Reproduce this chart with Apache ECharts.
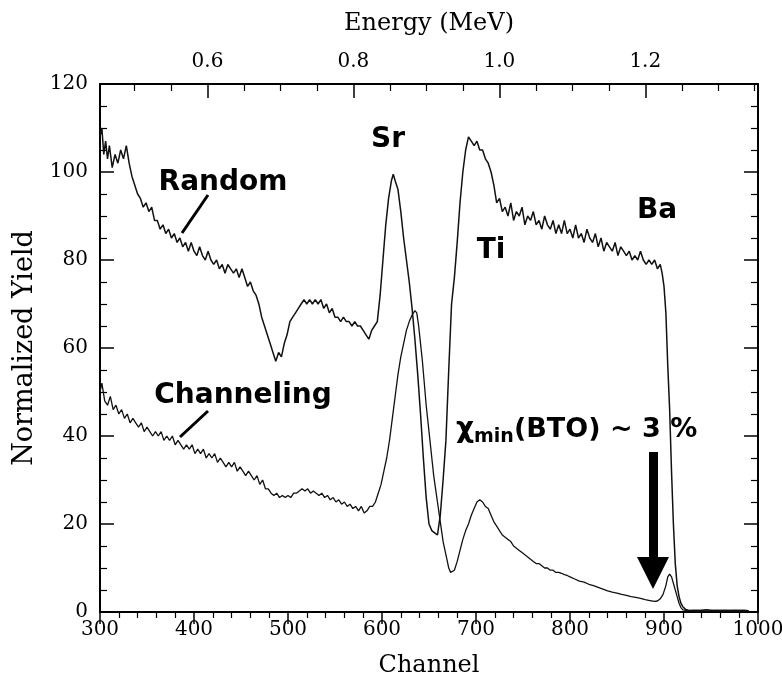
<!DOCTYPE html>
<html>
<head>
<meta charset="utf-8">
<script src="https://cdn.jsdelivr.net/npm/echarts@6/dist/echarts.min.js"></script>
<style>
html, body { margin: 0; padding: 0; background: #fff; }
#main { width: 782px; height: 687px; }
</style>
</head>
<body>
<div id="main"></div>
<script>
// RBS spectra, channel vs normalized yield
var randomData = [
  [300,108],[302,110],[304,104],[306,107],[308,103],[310,106],[313,101],[316,104],[319,102],[322,105],
  [325,103],[328,106],[331,102],[334,99],[337,97],[340,95],[343,94],[346,92],[349,93],[352,91],
  [355,92],[358,89],[361,89],[364,87],[367,88],[370,86],[373,87],[376,85],[379,86],[382,84],
  [385,85],[388,83],[391,84],[394,82],[397,84],[400,82],[403,81],[406,83],[409,81],[412,80],
  [415,82],[418,80],[421,79],[424,80],[427,78],[430,79],[433,77],[436,79],[439,78],[442,77],
  [445,78],[448,76],[451,78],[454,76],[457,74],[460,75],[463,73],[466,72],[469,70],[472,67],
  [475,65],[478,63],[481,61],[484,59],[487,57],[490,59],[493,58],[496,61],[499,63],[502,66],
  [505,67],[508,68],[511,69],[514,70],[517,71],[520,70],[523,71],[526,70],[529,71],[532,70],
  [535,71],[538,69],[541,70],[544,68],[547,69],[550,67],[553,67],[556,66],[559,67],[562,66],
  [565,66],[568,65],[571,66],[574,65],[577,65],[580,64],[583,63],[586,62],[589,64],[592,65],
  [595,66],[598,72],[601,80],[604,88],[607,94],[610,98],[612,99.5],[614,98],[617,96],[620,91],
  [623,85],[626,80],[629,75],[632,69],[635,62],[638,54],[641,45],[644,35],[647,26],[650,20],
  [653,18.5],[656,18],[659,17.5],[662,22],[665,30],[668,39],[671,55],[674,70],[677,76],[680,84],
  [683,93],[686,100],[689,105],[692,108],[695,107],[698,106],[701,107],[704,105],[707,105],[710,103],
  [713,102],[716,100],[719,97],[722,93],[725,94],[728,91],[731,92],[734,90],[737,93],[740,89],
  [743,91],[746,90],[749,92],[752,88],[755,90],[758,89],[761,91],[764,88],[767,89],[770,87],
  [773,90],[776,88],[779,87],[782,89],[785,86],[788,88],[791,86],[794,89],[797,86],[800,87],
  [803,85],[806,88],[809,85],[812,86],[815,84],[818,87],[821,85],[824,84],[827,86],[830,83],
  [833,85],[836,82],[839,84],[842,83],[845,82],[848,84],[851,81],[854,83],[857,82],[860,81],
  [863,82],[866,80],[869,81],[872,80],[875,82],[878,80],[881,79],[884,80],[887,79],[890,80],
  [893,78],[896,79],[898,77],[900,74],[902,68],[904,56],[906,46],[908,32],[910,20],[912,11],
  [914,6],[916,3.5],[918,2],[920,1.2],[923,0.6],[926,0.4],[935,0.3],[945,0.5],[955,0.3],[965,0.4],
  [975,0.3],[985,0.4],[990,0.3]
];

var channelingData = [
  [300,50],[302,52],[305,48],[308,47],[311,49],[314,46],[317,47],[320,45],[323,46],[326,44],
  [329,45],[332,43],[335,44],[338,43],[341,42],[344,43],[347,41],[350,42],[353,41],[356,40],
  [359,41],[362,40],[365,41],[368,39],[371,40],[374,39],[377,40],[380,38],[383,39],[386,38],
  [389,37],[392,38],[395,37],[398,38],[401,36],[404,37],[407,36],[410,37],[413,35],[416,36],
  [419,35],[422,36],[425,34],[428,35],[431,34],[434,33],[437,34],[440,33],[443,34],[446,32],
  [449,33],[452,32],[455,31],[458,32],[461,31],[464,30],[467,31],[470,29],[473,30],[476,28],
  [479,28],[482,27],[485,26.5],[488,27],[491,26],[494,26.5],[497,26],[500,26.5],[503,26],[506,27],
  [509,27],[512,27.5],[515,28],[518,27.5],[521,28],[524,27],[527,27.5],[530,27],[533,26.5],[536,27],
  [539,26],[542,26.5],[545,25.5],[548,26],[551,25],[554,25.5],[557,24.5],[560,25],[563,24],[566,24.5],
  [569,23.5],[572,24],[575,23],[578,24],[581,22.5],[584,23],[587,24],[590,24],[593,25],[596,27],
  [599,29],[602,32],[605,35],[608,39],[611,44],[614,49],[617,54],[620,58],[623,61],[626,64],
  [629,66],[632,67.5],[635,68.5],[637,68],[639,65],[641,61],[643,57],[645,52],[647,47],[649,43],
  [651,39],[653,35],[655,31],[657,28],[659,25],[661,22],[663,19],[665,16],[667,14],[669,12],
  [671,10],[673,9],[675,8.8],[677,9.5],[680,11.5],[683,14],[686,16.5],[689,18.5],[692,20],[695,22],
  [698,23.5],[701,25],[704,25.5],[707,25],[710,24],[713,23.5],[716,22],[719,20.5],[722,19.5],[725,18.5],
  [728,17.5],[731,17],[734,16.5],[737,16],[740,15],[743,14.5],[746,14],[749,13.5],[752,13],[755,12.5],
  [758,12],[761,11.5],[764,11],[767,11],[770,10.5],[773,10],[776,10],[779,9.5],[782,9.5],[785,9],
  [788,9],[791,8.8],[794,8.5],[797,8.3],[800,8],[805,7.5],[810,7],[815,6.8],[820,6.3],[825,6],
  [830,5.6],[835,5.2],[840,4.8],[845,4.5],[850,4.3],[855,4],[860,3.8],[865,3.5],[870,3.3],[875,3.1],
  [880,2.8],[885,2.6],[890,2.4],[893,2.5],[896,3],[899,4],[902,6],[904,8],[906,8.6],[908,8],
  [910,6.5],[912,5],[914,3.5],[916,2],[918,1],[920,0.5],[925,0.3],[935,0.4],[945,0.2],[955,0.4],
  [965,0.3],[975,0.4],[985,0.3],[990,0.3]
];

// energy scale on the top axis: E = 0.9 + (channel - 647.2) / 776.3
var energyLabels = [0.6, 0.8, 1.0, 1.2];
var energyMinorTicks = [0.5, 0.55, 0.65, 0.7, 0.75, 0.85, 0.9, 0.95, 1.05, 1.1, 1.15, 1.25, 1.3, 1.35];
function energyToChannel(e) { return 647.2 + (e - 0.9) * 776.3; }
function channelToEnergy(c) { return 0.9 + (c - 647.2) / 776.3; }

var serif = 'DejaVu Serif';
var sans = 'DejaVu Sans';

var chart = echarts.init(document.getElementById('main'));

var option = {
    backgroundColor: '#fff',
    animation: false,
    grid: { left: 100, right: 24, top: 84, bottom: 75, outerBoundsMode: 'none', containLabel: false },
    xAxis: [
        {
            type: 'value', position: 'bottom',
            min: 300, max: 1000, interval: 100,
            name: 'Channel', nameLocation: 'middle', nameGap: 42,
            nameTextStyle: { fontFamily: serif, fontSize: 24, color: '#000' },
            axisLine: { onZero: false, lineStyle: { color: '#000', width: 2 } },
            axisTick: { inside: false, length: 12, lineStyle: { color: '#000', width: 1.5 } },
            minorTick: { show: true, splitNumber: 5, length: 6, lineStyle: { color: '#000', width: 1.2 } },
            axisLabel: { fontFamily: serif, fontSize: 20, color: '#000', margin: 8, formatter: function (v) { return String(v); } },
            splitLine: { show: false }
        },
        {
            type: 'value', position: 'top',
            min: 300, max: 1000,
            name: 'Energy (MeV)', nameLocation: 'middle', nameGap: 48,
            nameTextStyle: { fontFamily: serif, fontSize: 24, color: '#000' },
            axisLine: { onZero: false, lineStyle: { color: '#000', width: 2 } },
            axisTick: { inside: true, length: 14, customValues: energyLabels.map(energyToChannel), lineStyle: { color: '#000', width: 1.5 } },
            axisLabel: {
                customValues: energyLabels.map(energyToChannel), fontFamily: serif, fontSize: 20, color: '#000', margin: 12,
                formatter: function (v) { return channelToEnergy(v).toFixed(1); }
            },
            splitLine: { show: false }
        },
        {
            type: 'value', position: 'top', offset: 0,
            min: 300, max: 1000,
            axisLine: { show: false, onZero: false },
            axisTick: { inside: true, length: 7, customValues: energyMinorTicks.map(energyToChannel), lineStyle: { color: '#000', width: 1.2 } },
            axisLabel: { show: false },
            splitLine: { show: false }
        }
    ],
    yAxis: [
        {
            type: 'value', position: 'left',
            min: 0, max: 120, interval: 20,
            name: 'Normalized Yield', nameLocation: 'middle', nameGap: 62,
            nameTextStyle: { fontFamily: serif, fontSize: 27, color: '#000' },
            axisLine: { show: true, onZero: false, lineStyle: { color: '#000', width: 2 } },
            axisTick: { show: true, inside: true, length: 14, lineStyle: { color: '#000', width: 1.5 } },
            minorTick: { show: true, splitNumber: 4, length: 7, lineStyle: { color: '#000', width: 1.2 } },
            axisLabel: { fontFamily: serif, fontSize: 20, color: '#000', margin: 12 },
            splitLine: { show: false }
        },
        {
            type: 'value', position: 'right',
            min: 0, max: 120, interval: 20,
            axisLine: { show: true, onZero: false, lineStyle: { color: '#000', width: 2 } },
            axisTick: { show: true, inside: true, length: 14, lineStyle: { color: '#000', width: 1.5 } },
            minorTick: { show: true, splitNumber: 4, length: 7, lineStyle: { color: '#000', width: 1.2 } },
            axisLabel: { show: false },
            splitLine: { show: false }
        }
    ],
    series: [
        {
            name: 'Random', type: 'line', xAxisIndex: 0, yAxisIndex: 0,
            data: randomData, showSymbol: false,
            lineStyle: { color: '#111', width: 1.5 }
        },
        {
            name: 'Channeling', type: 'line', xAxisIndex: 0, yAxisIndex: 0,
            data: channelingData, showSymbol: false,
            lineStyle: { color: '#111', width: 1.3 }
        }
    ],
    graphic: [
        // peak / curve annotations
        { type: 'text', x: 223, y: 183, style: { text: 'Random', font: 'bold 28px ' + sans, fill: '#000', align: 'center', verticalAlign: 'middle' } },
        { type: 'line', shape: { x1: 208, y1: 195, x2: 182, y2: 233 }, style: { stroke: '#000', lineWidth: 3 } },
        { type: 'text', x: 243, y: 396, style: { text: 'Channeling', font: 'bold 28px ' + sans, fill: '#000', align: 'center', verticalAlign: 'middle' } },
        { type: 'line', shape: { x1: 208, y1: 411, x2: 180, y2: 437 }, style: { stroke: '#000', lineWidth: 3 } },
        { type: 'text', x: 388, y: 140, style: { text: 'Sr', font: 'bold 28px ' + sans, fill: '#000', align: 'center', verticalAlign: 'middle' } },
        { type: 'text', x: 491, y: 251, style: { text: 'Ti', font: 'bold 28px ' + sans, fill: '#000', align: 'center', verticalAlign: 'middle' } },
        { type: 'text', x: 657, y: 211, style: { text: 'Ba', font: 'bold 28px ' + sans, fill: '#000', align: 'center', verticalAlign: 'middle' } },
        {
            type: 'text', x: 456, y: 430,
            style: {
                text: '{chi|χ}{sub|min}{main|(BTO) ~ 3 %}',
                fill: '#000', verticalAlign: 'middle',
                rich: {
                    chi: { font: 'bold 28px ' + sans, fill: '#000' },
                    sub: { font: 'bold 19px ' + sans, fill: '#000', padding: [14, 0, 0, 0] },
                    main: { font: 'bold 27px ' + sans, fill: '#000' }
                }
            }
        },
        // arrow pointing at the Ba surface signal
        { type: 'rect', shape: { x: 649, y: 452, width: 9, height: 108 }, style: { fill: '#000' } },
        { type: 'polygon', shape: { points: [[637, 557], [669, 557], [653, 589]] }, style: { fill: '#000' } }
    ]
};

chart.setOption(option);
</script>
</body>
</html>
